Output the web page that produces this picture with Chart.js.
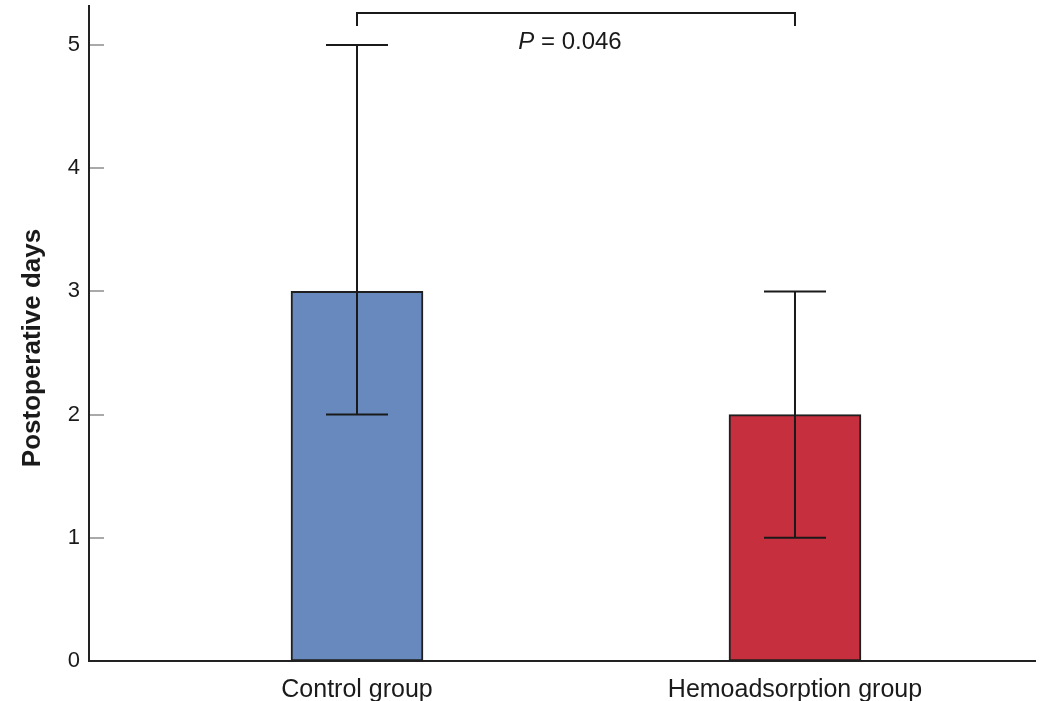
<html>

<head>
    <meta charset="utf-8">
    <script src="https://cdn.jsdelivr.net/npm/chart.js"></script>
    <title>Postoperative days</title>
    <style>
        body { margin: 0; background: #fff; }
        .grafico { width: 1040px; height: 701px; }
    </style>
</head>

<body>
    <div class="grafico">
        <canvas id="myChart" width="1040" height="701"></canvas>
    </div>
    <script>
        // dados
        var categorias = ['Control group', 'Hemoadsorption group'];
        var medianas = [3, 2];
        var limiteInferior = [2, 1];
        var limiteSuperior = [5, 3];
        var cores = ['#6789be', '#c62f3d'];
        var yTicks = [0, 1, 2, 3, 4, 5];
        var textoP = '0.046';
        var tituloY = 'Postoperative days';

        var fonte = '"Liberation Sans", Arial, sans-serif';

        // barras de erro, marcas internas, colchete e titulo do eixo
        var extras = {
            id: 'extras',
            afterDatasetsDraw: function (chart) {
                var ctx = chart.ctx;
                var x = chart.scales.x, y = chart.scales.y;
                ctx.save();
                ctx.strokeStyle = '#1a1a1a';
                ctx.lineWidth = 2;
                categorias.forEach(function (c, i) {
                    var px = x.getPixelForValue(i + 1);
                    var lo = y.getPixelForValue(limiteInferior[i]);
                    var hi = y.getPixelForValue(limiteSuperior[i]);
                    ctx.beginPath();
                    ctx.moveTo(px, lo); ctx.lineTo(px, hi);
                    ctx.moveTo(px - 31, lo); ctx.lineTo(px + 31, lo);
                    ctx.moveTo(px - 31, hi); ctx.lineTo(px + 31, hi);
                    ctx.stroke();
                });
                ctx.restore();
            },
            afterDraw: function (chart) {
                var ctx = chart.ctx;
                var x = chart.scales.x, y = chart.scales.y;
                var area = chart.chartArea;
                ctx.save();
                // marcas do eixo y para dentro
                ctx.strokeStyle = '#a9a9a9';
                ctx.lineWidth = 2;
                yTicks.forEach(function (v) {
                    if (v === 0) return;
                    var py = Math.round(y.getPixelForValue(v));
                    ctx.beginPath();
                    ctx.moveTo(area.left + 1, py); ctx.lineTo(area.left + 15, py);
                    ctx.stroke();
                });

                // colchete do valor P
                var x1 = x.getPixelForValue(1), x2 = x.getPixelForValue(2);
                var topo = y.getPixelForValue(5.26);
                ctx.strokeStyle = '#1a1a1a';
                ctx.lineWidth = 2;
                ctx.beginPath();
                ctx.moveTo(x1, topo + 13); ctx.lineTo(x1, topo);
                ctx.lineTo(x2, topo); ctx.lineTo(x2, topo + 13);
                ctx.stroke();

                ctx.fillStyle = '#1a1a1a';
                ctx.textBaseline = 'alphabetic';
                ctx.textAlign = 'left';
                var fItal = 'italic 24px ' + fonte;
                var fNorm = '24px ' + fonte;
                ctx.font = fItal;
                var wP = ctx.measureText('P').width;
                ctx.font = fNorm;
                var resto = ' = ' + textoP;
                var wR = ctx.measureText(resto).width;
                var inicio = (x1 + x2) / 2 - (wP + wR) / 2 - 6;
                ctx.font = fItal;
                ctx.fillText('P', inicio, topo + 36);
                ctx.font = fNorm;
                ctx.fillText(resto, inicio + wP, topo + 36);

                // titulo do eixo y
                ctx.translate(33, 348);
                ctx.rotate(-Math.PI / 2);
                ctx.textAlign = 'center';
                ctx.textBaseline = 'middle';
                ctx.font = 'bold 26px ' + fonte;
                ctx.fillText(tituloY, 0, 0);
                ctx.restore();
            }
        };

        var ctx = document.getElementById('myChart').getContext('2d');
        var myChart = new Chart(ctx, {
            type: 'bar',
            data: {
                datasets: [{
                    data: categorias.map(function (c, i) { return { x: i + 1, y: medianas[i] }; }),
                    backgroundColor: cores,
                    borderColor: '#1f1f1f',
                    borderWidth: 2,
                    borderSkipped: false,
                    barThickness: 132
                }]
            },
            options: {
                responsive: false,
                animation: false,
                layout: { padding: { top: 6, right: 5, left: 0, bottom: 0 } },
                plugins: {
                    legend: { display: false },
                    tooltip: { enabled: false }
                },
                scales: {
                    x: {
                        type: 'linear',
                        offset: false,
                        min: 0.3881,
                        max: 2.548,
                        afterBuildTicks: function (s) {
                            s.ticks = categorias.map(function (c, i) { return { value: i + 1 }; });
                        },
                        afterFit: function (s) {
                            s.height = 40;
                            s.paddingLeft = 0; s.paddingRight = 0;
                        },
                        grid: { display: false, drawTicks: false, offset: false },
                        border: { display: true, color: '#222222', width: 2 },
                        ticks: {
                            padding: 14,
                            maxRotation: 0,
                            autoSkip: false,
                            color: '#1a1a1a',
                            font: { family: fonte, size: 25 },
                            callback: function (v) { return categorias[v - 1]; }
                        }
                    },
                    y: {
                        min: 0,
                        max: 5.317,
                        afterBuildTicks: function (s) {
                            s.ticks = yTicks.map(function (v) { return { value: v }; });
                        },
                        afterFit: function (s) {
                            s.width = 89;
                            s.paddingTop = 0; s.paddingBottom = 0;
                        },
                        grid: { display: false, drawTicks: false },
                        border: { display: true, color: '#222222', width: 2 },
                        ticks: {
                            padding: 9,
                            color: '#1a1a1a',
                            font: { family: fonte, size: 22 }
                        }
                    }
                }
            },
            plugins: [extras]
        });
    </script>
</body>

</html>
